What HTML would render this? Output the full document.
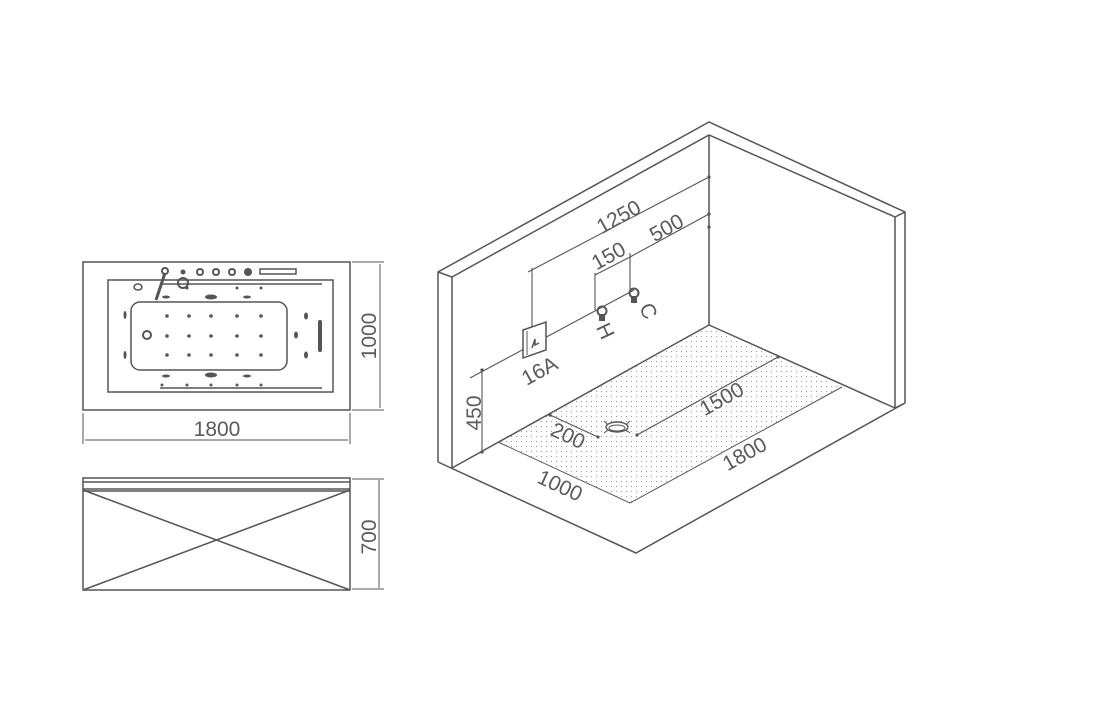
<!DOCTYPE html>
<html><head><meta charset="utf-8"><style>
body{margin:0;background:#fff;}
svg{display:block;}
text{font-family:"Liberation Sans",sans-serif;fill:#5a5a5a;font-size:21px;}
</style></head><body>
<svg width="1114" height="703" viewBox="0 0 1114 703" xmlns="http://www.w3.org/2000/svg">
<defs>
<pattern id="dots" width="5" height="5" patternUnits="userSpaceOnUse"><circle cx="1.5" cy="1.5" r="0.6" fill="#999"/></pattern>
</defs>
<g fill="none" stroke="#555" stroke-width="1.5">
<rect x="83" y="262" width="267" height="148"/>
<rect x="108" y="280" width="225" height="112"/>
<rect x="131" y="302" width="156" height="68" rx="9"/>
<line x1="160" y1="284" x2="322" y2="284"/>
<line x1="160" y1="388" x2="322" y2="388"/>
<line x1="352" y1="262" x2="384" y2="262" stroke-width="1"/>
<line x1="352" y1="410" x2="384" y2="410" stroke-width="1"/>
<line x1="380" y1="264" x2="380" y2="408" stroke-width="1"/>
<line x1="83" y1="413" x2="83" y2="444" stroke-width="1"/>
<line x1="350" y1="413" x2="350" y2="444" stroke-width="1"/>
<line x1="85" y1="440" x2="348" y2="440" stroke-width="1"/>
<rect x="83" y="478" width="267" height="112"/>
<line x1="83" y1="482" x2="350" y2="482"/>
<line x1="83" y1="489" x2="350" y2="489"/>
<line x1="83" y1="491" x2="350" y2="491"/>
<line x1="83" y1="490" x2="350" y2="590"/>
<line x1="350" y1="490" x2="83" y2="590"/>
<line x1="352" y1="479" x2="384" y2="479" stroke-width="1"/>
<line x1="352" y1="589" x2="384" y2="589" stroke-width="1"/>
<line x1="379" y1="480" x2="379" y2="588" stroke-width="1"/>
</g>
<g fill="#555">
<circle cx="165" cy="271" r="4"/><circle cx="165" cy="271" r="2" fill="#fff"/>
<line x1="165" y1="273" x2="156" y2="300" stroke="#555" stroke-width="3"/>
<circle cx="183" cy="283" r="5" fill="none" stroke="#555" stroke-width="2"/>
<circle cx="183" cy="272" r="2.5"/>
<circle cx="200" cy="272" r="4"/><circle cx="200" cy="272" r="2" fill="#fff"/>
<circle cx="216" cy="272" r="4"/><circle cx="216" cy="272" r="2" fill="#fff"/>
<circle cx="232" cy="272" r="4"/><circle cx="232" cy="272" r="2" fill="#fff"/>
<circle cx="248" cy="272" r="4"/>
<rect x="260" y="269" width="36" height="5" fill="none" stroke="#555" stroke-width="1.5"/>
<ellipse cx="138" cy="287" rx="4" ry="3" fill="none" stroke="#555" stroke-width="1.5"/>
<ellipse cx="211" cy="297" rx="6" ry="2.5"/>
<ellipse cx="211" cy="375" rx="6" ry="2.5"/>
<ellipse cx="166" cy="297" rx="4" ry="1.5"/><ellipse cx="247" cy="297" rx="4" ry="1.5"/>
<ellipse cx="166" cy="376" rx="4" ry="1.5"/><ellipse cx="247" cy="376" rx="4" ry="1.5"/>
<ellipse cx="125" cy="315" rx="1.5" ry="4"/><ellipse cx="125" cy="355" rx="1.5" ry="4"/>
<ellipse cx="306" cy="316" rx="2" ry="3.5"/><ellipse cx="296" cy="335" rx="2" ry="3.5"/><ellipse cx="306" cy="355" rx="2" ry="3.5"/>
<rect x="318" y="320" width="4" height="32" rx="2"/>
<circle cx="147" cy="335" r="4" fill="none" stroke="#555" stroke-width="2"/>
<circle cx="167" cy="316" r="1.8"/><circle cx="189" cy="316" r="1.8"/><circle cx="211" cy="316" r="1.8"/><circle cx="237" cy="316" r="1.8"/><circle cx="261" cy="316" r="1.8"/>
<circle cx="167" cy="336" r="1.8"/><circle cx="189" cy="336" r="1.8"/><circle cx="211" cy="336" r="1.8"/><circle cx="237" cy="336" r="1.8"/><circle cx="261" cy="336" r="1.8"/>
<circle cx="167" cy="355" r="1.8"/><circle cx="189" cy="355" r="1.8"/><circle cx="211" cy="355" r="1.8"/><circle cx="237" cy="355" r="1.8"/><circle cx="261" cy="355" r="1.8"/>
<circle cx="187" cy="288" r="1.5"/><circle cx="237" cy="288" r="1.5"/><circle cx="261" cy="288" r="1.5"/>
<circle cx="162" cy="385" r="1.5"/><circle cx="187" cy="385" r="1.5"/><circle cx="211" cy="385" r="1.5"/><circle cx="237" cy="385" r="1.5"/><circle cx="261" cy="385" r="1.5"/>
</g>
<text x="217" y="436" text-anchor="middle">1800</text>
<text transform="translate(376,336) rotate(-90)" text-anchor="middle">1000</text>
<text transform="translate(376,537) rotate(-90)" text-anchor="middle">700</text>

<polygon points="498,442 708,327 842,387 630,503" fill="url(#dots)"/>
<g fill="none" stroke="#555" stroke-width="1.5">
<polyline points="438,462 438,272 709,122 905,212 905,403"/>
<polyline points="438,272 452,277 452,468"/>
<polyline points="452,277 709,135 895,217 895,408"/>
<line x1="905" y1="212" x2="895" y2="217"/>
<line x1="709" y1="135" x2="709" y2="325"/>
<polyline points="438,462 636,553 905,403"/>
<line x1="452" y1="468" x2="709" y2="325"/>
<line x1="709" y1="325" x2="895" y2="408"/>
<line x1="905" y1="403" x2="895" y2="408"/>
<polyline points="498,442 630,503 842,387" stroke-width="1"/>
</g>
<g fill="none" stroke="#555" stroke-width="1.1">
<line x1="470" y1="378" x2="634" y2="290"/>
<line x1="528" y1="272" x2="709" y2="177"/>
<line x1="532" y1="268" x2="532" y2="330"/>
<line x1="630" y1="257" x2="709" y2="214"/>
<line x1="595" y1="275" x2="632" y2="256"/>
<line x1="595" y1="273" x2="595" y2="310"/>
<line x1="630" y1="253" x2="630" y2="290"/>
<line x1="482" y1="370" x2="482" y2="452"/>
<line x1="550" y1="415" x2="598" y2="437"/>
<line x1="637" y1="435" x2="778" y2="357"/>
</g>
<g fill="#555">
<circle cx="709" cy="177" r="1.6"/><circle cx="709" cy="214" r="1.6"/><circle cx="709" cy="227" r="1.6"/>
<circle cx="482" cy="370" r="1.6"/><circle cx="482" cy="452" r="1.6"/>
<circle cx="550" cy="415" r="1.6"/><circle cx="598" cy="437" r="1.6"/>
<circle cx="637" cy="435" r="1.6"/><circle cx="778" cy="357" r="1.6"/>
</g>
<polygon points="523,330 546,322 546,350 523,358" fill="#fff" stroke="#555" stroke-width="1.5"/>
<line x1="527" y1="331" x2="527" y2="355" stroke="#555" stroke-width="1"/>
<path d="M532,348 l3,-9 l0,6 l4,-2" fill="none" stroke="#555" stroke-width="1.5"/>
<g fill="#555">
<circle cx="602" cy="311" r="4.5" fill="none" stroke="#555" stroke-width="2"/>
<rect x="599" y="314" width="6" height="7"/>
<circle cx="634" cy="293" r="4.5" fill="none" stroke="#555" stroke-width="2"/>
<rect x="631" y="296" width="6" height="7"/>
</g>
<ellipse cx="617" cy="427" rx="11" ry="5" fill="#fff" stroke="#555" stroke-width="1.4"/>
<ellipse cx="617" cy="428" rx="8" ry="3" fill="none" stroke="#555" stroke-width="1"/>
<line x1="604" y1="421" x2="608" y2="425" stroke="#555"/><line x1="630" y1="421" x2="626" y2="425" stroke="#555"/>
<line x1="604" y1="433" x2="608" y2="430" stroke="#555"/><line x1="630" y1="433" x2="626" y2="430" stroke="#555"/>

<text transform="translate(622,223) rotate(-29)" text-anchor="middle">1250</text>
<text transform="translate(670,234) rotate(-29)" text-anchor="middle">500</text>
<text transform="translate(612,262) rotate(-29)" text-anchor="middle">150</text>
<text transform="translate(543,377) rotate(-29)" text-anchor="middle">16A</text>
<text transform="translate(599,334) rotate(65)" text-anchor="middle">H</text>
<text transform="translate(642,314) rotate(65)" text-anchor="middle">C</text>
<text transform="translate(481,413) rotate(-90)" text-anchor="middle">450</text>
<text transform="translate(565,442) rotate(25)" text-anchor="middle">200</text>
<text transform="translate(725,405) rotate(-29)" text-anchor="middle">1500</text>
<text transform="translate(748,460) rotate(-29)" text-anchor="middle">1800</text>
<text transform="translate(557,492) rotate(25)" text-anchor="middle">1000</text>
</svg>
</body></html>
